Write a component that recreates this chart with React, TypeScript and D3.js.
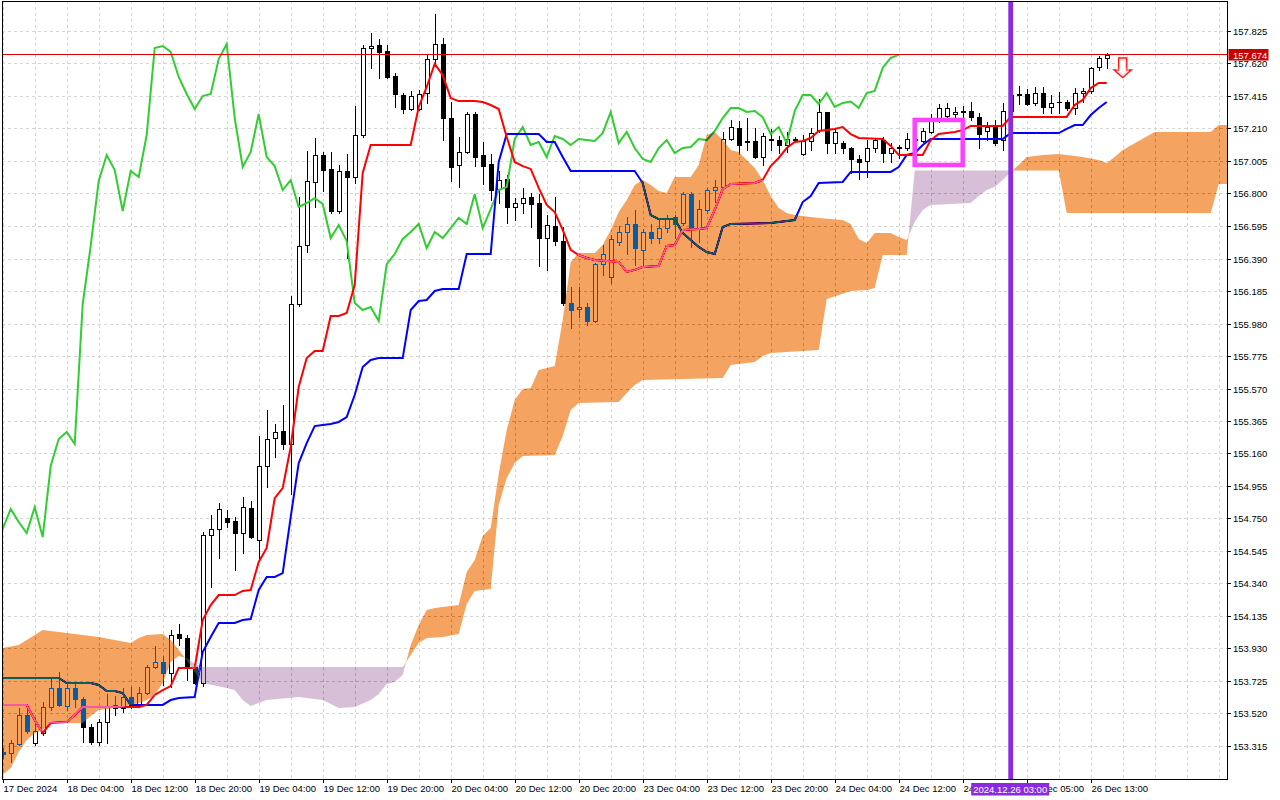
import * as d3 from 'd3'

// hourly candles, bar 0 = 17 Dec 20:00
const opens = [
  153.277, 153.271, 153.328, 153.51, 153.334, 153.397, 153.561, 153.681, 153.567, 153.681,
  153.611, 153.435, 153.34, 153.466, 153.574, 153.555, 153.624, 153.574, 153.649, 153.813,
  153.845, 153.775, 154.021, 153.996, 153.813, 153.712, 154.646, 154.684, 154.753, 154.734,
  154.658, 154.816, 154.614, 155.081, 155.258, 155.302, 155.22, 156.103, 156.475, 156.873,
  157.043, 156.955, 156.69, 156.942, 156.904, 157.169, 157.718, 157.737, 157.699, 157.541,
  157.421, 157.333, 157.333, 157.434, 157.648, 157.743, 157.276, 156.98, 157.062, 157.301,
  157.043, 156.986, 156.828, 156.891, 156.715, 156.74, 156.778, 156.74, 156.519, 156.595,
  156.5, 156.109, 156.071, 156.084, 155.996, 156.355, 156.273, 156.494, 156.557, 156.608,
  156.444, 156.557, 156.519, 156.582, 156.652, 156.614, 156.797, 156.582, 156.696, 156.822,
  156.841, 157.144, 157.213, 157.131, 157.131, 157.03, 157.137, 157.137, 157.106, 157.144,
  157.049, 157.131, 157.2, 157.314, 157.118, 157.118, 157.087, 157.018, 157.005, 157.087,
  157.137, 157.055, 157.087, 157.087, 157.144, 157.131, 157.188, 157.276, 157.289, 157.301,
  157.314, 157.32, 157.282, 157.194, 157.219, 157.137, 157.32, 157.428, 157.428, 157.371,
  157.434, 157.346, 157.377, 157.377, 157.339, 157.434, 157.447, 157.598, 157.655,
]
const highs = [
  153.302, 153.353, 153.555, 153.555, 153.492, 153.592, 153.75, 153.782, 153.719, 153.719,
  153.624, 153.454, 153.485, 153.643, 153.63, 153.681, 153.687, 153.687, 153.826, 153.946,
  153.883, 154.047, 154.085, 154.015, 153.857, 154.665, 154.772, 154.848, 154.804, 154.759,
  154.886, 154.86, 155.27, 155.434, 155.346, 155.466, 156.154, 156.778, 157.068, 157.15,
  157.062, 157.062, 156.98, 157.049, 157.352, 157.737, 157.812, 157.775, 157.737, 157.56,
  157.434, 157.447, 157.453, 157.674, 157.932, 157.781, 157.377, 157.156, 157.314, 157.314,
  157.125, 157.049, 156.942, 156.917, 156.771, 156.835, 156.803, 156.797, 156.664, 156.778,
  156.589, 156.21, 156.21, 156.109, 156.362, 156.475, 156.538, 156.595, 156.652, 156.696,
  156.576, 156.608, 156.633, 156.664, 156.664, 156.809, 156.809, 156.759, 156.835, 156.885,
  157.188, 157.264, 157.257, 157.276, 157.213, 157.181, 157.207, 157.163, 157.188, 157.156,
  157.169, 157.213, 157.396, 157.314, 157.213, 157.131, 157.093, 157.043, 157.137, 157.15,
  157.156, 157.118, 157.106, 157.181, 157.169, 157.213, 157.301, 157.364, 157.371, 157.346,
  157.352, 157.377, 157.308, 157.251, 157.264, 157.371, 157.44, 157.478, 157.459, 157.472,
  157.472, 157.421, 157.44, 157.39, 157.465, 157.465, 157.598, 157.667, 157.686,
]
const lows = [
  153.239, 153.214, 153.321, 153.397, 153.321, 153.384, 153.542, 153.567, 153.542, 153.561,
  153.34, 153.328, 153.321, 153.334, 153.51, 153.529, 153.555, 153.561, 153.643, 153.807,
  153.7, 153.687, 153.952, 153.731, 153.706, 153.693, 154.318, 154.501, 154.696, 154.425,
  154.532, 154.627, 154.488, 154.949, 155.138, 155.188, 154.905, 156.09, 156.431, 156.715,
  156.816, 156.677, 156.677, 156.393, 156.866, 157.156, 157.592, 157.529, 157.529, 157.346,
  157.308, 157.327, 157.327, 157.371, 157.611, 157.137, 156.879, 156.841, 157.055, 156.973,
  156.86, 156.759, 156.74, 156.614, 156.633, 156.677, 156.589, 156.343, 156.318, 156.475,
  156.097, 155.952, 156.021, 155.971, 155.989, 156.286, 156.236, 156.475, 156.418, 156.349,
  156.336, 156.488, 156.488, 156.557, 156.519, 156.601, 156.463, 156.494, 156.677, 156.746,
  156.835, 157.137, 157.049, 157.074, 157.024, 156.98, 157.074, 157.055, 157.062, 157.125,
  157.043, 157.074, 157.188, 157.055, 157.055, 157.055, 156.929, 156.891, 156.904, 157.062,
  156.999, 156.999, 157.024, 157.074, 157.118, 157.125, 157.181, 157.251, 157.276, 157.282,
  157.282, 157.264, 157.087, 157.137, 157.106, 157.074, 157.308, 157.365, 157.358, 157.358,
  157.308, 157.308, 157.308, 157.327, 157.301, 157.377, 157.434, 157.579, 157.592,
]
const closes = [
  153.265, 153.334, 153.51, 153.41, 153.41, 153.561, 153.681, 153.574, 153.681, 153.611,
  153.435, 153.34, 153.466, 153.561, 153.555, 153.624, 153.574, 153.649, 153.813, 153.845,
  153.775, 154.015, 153.996, 153.813, 153.712, 154.646, 154.684, 154.81, 154.728, 154.658,
  154.822, 154.633, 155.081, 155.251, 155.296, 155.22, 156.103, 156.469, 156.879, 157.043,
  156.948, 156.69, 156.942, 156.904, 157.169, 157.718, 157.73, 157.693, 157.535, 157.428,
  157.333, 157.415, 157.428, 157.648, 157.743, 157.276, 156.967, 157.062, 157.301, 157.03,
  156.973, 156.822, 156.885, 156.715, 156.74, 156.771, 156.734, 156.519, 156.601, 156.5,
  156.109, 156.065, 156.084, 155.996, 156.355, 156.418, 156.513, 156.557, 156.608, 156.456,
  156.557, 156.519, 156.582, 156.646, 156.608, 156.797, 156.582, 156.702, 156.822, 156.841,
  157.144, 157.219, 157.106, 157.125, 157.03, 157.163, 157.144, 157.106, 157.144, 157.137,
  157.131, 157.181, 157.314, 157.118, 157.188, 157.087, 157.018, 156.999, 157.087, 157.137,
  157.055, 157.087, 157.093, 157.144, 157.137, 157.194, 157.276, 157.339, 157.339, 157.314,
  157.32, 157.282, 157.175, 157.219, 157.118, 157.32, 157.421, 157.421, 157.365, 157.434,
  157.346, 157.371, 157.38, 157.339, 157.434, 157.447, 157.592, 157.655, 157.674,
]

// Ichimoku lines as [bar, price] vertices
const tenkan: [number, number][] = [
  [0, 153.574], [3, 153.574], [4, 153.479], [5, 153.397], [6, 153.46], [8, 153.466], [9, 153.51],
  [10, 153.561], [17, 153.561], [18, 153.574], [19, 153.637], [20, 153.668], [21, 153.693],
  [22, 153.807], [24, 153.807], [25, 154.11], [26, 154.204], [27, 154.267], [29, 154.267],
  [30, 154.293], [31, 154.299], [32, 154.476], [33, 154.564], [34, 154.879], [35, 154.942],
  [36, 155.201], [37, 155.579], [38, 155.762], [39, 155.807], [40, 155.807], [41, 156.027],
  [42, 156.027], [43, 156.046], [44, 156.223], [45, 156.929], [46, 157.106], [51, 157.106],
  [52, 157.346], [53, 157.472], [54, 157.617], [55, 157.547], [56, 157.402], [57, 157.383],
  [59, 157.383], [60, 157.377], [61, 157.358], [62, 157.333], [63, 157.156], [64, 156.999],
  [65, 156.973], [66, 156.955], [67, 156.835], [68, 156.728], [69, 156.683], [70, 156.57],
  [71, 156.444], [72, 156.412], [73, 156.393], [74, 156.381], [77, 156.368], [78, 156.305],
  [79, 156.318], [80, 156.336], [82, 156.343], [83, 156.469], [84, 156.475], [85, 156.57],
  [87, 156.576], [88, 156.582], [89, 156.696], [90, 156.828], [91, 156.86], [94, 156.866],
  [95, 156.885], [96, 156.973], [97, 157.024], [98, 157.087], [99, 157.125], [100, 157.131],
  [101, 157.15], [102, 157.194], [104, 157.207], [105, 157.219], [106, 157.175], [107, 157.15],
  [110, 157.144], [111, 157.1], [112, 157.043], [115, 157.043], [116, 157.137], [117, 157.175],
  [118, 157.181], [119, 157.188], [120, 157.2], [121, 157.226], [125, 157.226], [126, 157.283],
  [133, 157.283], [134, 157.358], [135, 157.39], [136, 157.465], [137, 157.497], [138, 157.497],
]
const kijun: [number, number][] = [
  [0, 153.744], [7, 153.744], [8, 153.712], [11, 153.712], [12, 153.7], [13, 153.662],
  [14, 153.662], [15, 153.649], [16, 153.574], [20, 153.574], [21, 153.605], [22, 153.618],
  [24, 153.624], [25, 153.908], [26, 154.003], [27, 154.091], [29, 154.091], [30, 154.11],
  [31, 154.116], [32, 154.299], [33, 154.381], [34, 154.381], [35, 154.406], [36, 154.759],
  [37, 155.1], [38, 155.226], [39, 155.333], [40, 155.34], [41, 155.346], [42, 155.359],
  [43, 155.39], [44, 155.529], [45, 155.706], [46, 155.75], [47, 155.762], [50, 155.762],
  [51, 156.065], [52, 156.122], [53, 156.128], [54, 156.185], [55, 156.198], [57, 156.198],
  [58, 156.418], [61, 156.418], [62, 156.999], [63, 157.175], [67, 157.175], [68, 157.125],
  [69, 157.125], [70, 157.03], [71, 156.942], [79, 156.942], [80, 156.866], [81, 156.664],
  [82, 156.639], [84, 156.639], [85, 156.551], [86, 156.507], [87, 156.463], [88, 156.431],
  [89, 156.418], [90, 156.589], [91, 156.608], [96, 156.614], [99, 156.633], [100, 156.746],
  [101, 156.784], [102, 156.866], [105, 156.873], [106, 156.936], [111, 156.936], [112, 156.967],
  [113, 157.043], [114, 157.055], [115, 157.106], [116, 157.144], [125, 157.144], [126, 157.181],
  [132, 157.181], [133, 157.207], [134, 157.232], [135, 157.232], [136, 157.295], [137, 157.339],
  [138, 157.377],
]
const senkouA: [number, number][] = [
  [0, 153.933], [2, 153.952], [4, 154.015], [5, 154.047], [8, 154.028], [12, 154.003],
  [16, 153.965], [17, 153.996], [18, 154.015], [20, 154.021], [21, 153.984], [22, 153.921],
  [23, 153.857], [24, 153.782], [25, 153.712], [28, 153.681], [29, 153.668], [30, 153.605],
  [31, 153.567], [32, 153.586], [33, 153.605], [37, 153.624], [40, 153.605], [42, 153.555],
  [44, 153.561], [46, 153.605], [47, 153.643], [48, 153.706], [49, 153.719], [50, 153.763],
  [51, 153.952], [52, 154.078], [53, 154.173], [54, 154.185], [55, 154.192], [56, 154.198],
  [57, 154.204], [58, 154.412], [59, 154.488], [60, 154.64], [61, 154.69], [62, 155.031],
  [63, 155.308], [64, 155.497], [65, 155.567], [66, 155.573], [67, 155.687], [68, 155.699],
  [69, 155.712], [70, 156.002], [71, 156.368], [72, 156.425], [74, 156.425], [75, 156.475],
  [76, 156.57], [77, 156.683], [78, 156.759], [79, 156.854], [80, 156.885], [81, 156.854],
  [82, 156.816], [83, 156.803], [84, 156.904], [86, 156.904], [87, 156.98], [88, 157.169],
  [89, 157.188], [90, 157.137], [91, 157.074], [92, 157.062], [93, 157.011], [94, 156.961],
  [95, 156.885], [96, 156.784], [97, 156.709], [98, 156.677], [99, 156.664], [102, 156.646],
  [105, 156.633], [106, 156.608], [107, 156.513], [108, 156.488], [109, 156.551], [111, 156.551],
  [112, 156.526], [113, 156.507], [114, 156.62], [115, 156.696], [116, 156.728], [121, 156.74],
  [122, 156.784], [123, 156.822], [124, 156.841], [125, 156.885], [126, 156.936], [127, 156.98],
  [128, 157.03], [130, 157.043], [132, 157.049], [135, 157.03], [137, 157.011], [138, 156.992],
  [139, 157.03], [140, 157.074], [142, 157.131], [144, 157.188], [151, 157.188], [152, 157.232],
  [154, 157.232],
]
const senkouB: [number, number][] = [
  [0, 153.132], [1, 153.176], [2, 153.277], [3, 153.353], [4, 153.397], [5, 153.416],
  [6, 153.46], [10, 153.46], [11, 153.504], [12, 153.542], [15, 153.561], [17, 153.586],
  [18, 153.605], [19, 153.637], [20, 153.712], [21, 153.845], [22, 153.883], [23, 153.87],
  [24, 153.832], [25, 153.813], [50, 153.813], [51, 153.889], [52, 153.965], [53, 153.996],
  [55, 154.003], [57, 154.021], [58, 154.211], [59, 154.293], [60, 154.299], [61, 154.305],
  [62, 154.835], [63, 155.005], [64, 155.1], [65, 155.144], [69, 155.15], [70, 155.27],
  [71, 155.434], [72, 155.479], [77, 155.485], [78, 155.542], [79, 155.592], [80, 155.624],
  [90, 155.636], [91, 155.718], [94, 155.737], [95, 155.775], [96, 155.794], [102, 155.813],
  [103, 156.134], [106, 156.185], [108, 156.191], [109, 156.204], [110, 156.412], [113, 156.412],
  [114, 156.945], [132, 156.945], [133, 156.677], [151, 156.677], [152, 156.86], [154, 156.86],
]

const timeLabels = [
  '17 Dec 2024', '18 Dec 04:00', '18 Dec 12:00', '18 Dec 20:00', '19 Dec 04:00', '19 Dec 12:00',
  '19 Dec 20:00', '20 Dec 04:00', '20 Dec 12:00', '20 Dec 20:00', '23 Dec 04:00', '23 Dec 12:00',
  '23 Dec 20:00', '24 Dec 04:00', '24 Dec 12:00', '24 Dec 20:00', '26 Dec 05:00', '26 Dec 13:00',
]
const priceTicks = [
  157.825, 157.62, 157.415, 157.21, 157.005, 156.8, 156.595, 156.39, 156.185, 155.98, 155.775,
  155.57, 155.365, 155.16, 154.955, 154.75, 154.545, 154.34, 154.135, 153.93, 153.725, 153.52,
  153.315,
]

// chart objects
const bidPrice = 157.674
const vlineBar = 126
const vlineLabel = '2024.12.26 03:00'
const boxBars = [114, 120]
const boxPrices = [157.264, 156.98]
const arrowBar = 140
const arrowPrice = 157.655
const chikouShift = 26

const W = 1280
const H = 800
const plot = { left: 2, top: 1, right: 1227, bottom: 779 }
const font = "'Liberation Sans', Arial, sans-serif"

export default function App() {
  const x = d3.scaleLinear().domain([0, 153]).range([2.7, 2.7 + 8 * 153])
  const y = d3.scaleLinear().domain([153.315, 157.825]).range([746, 31])
  const px = (i: number) => Math.round(x(i))
  const py = (p: number) => Math.round(y(p))

  const line = d3
    .line<[number, number]>()
    .x((d) => x(d[0]))
    .y((d) => y(d[1]))

  const chikou: [number, number][] = closes.slice(chikouShift).map((c, i) => [i, c])

  // half-planes above / below a vertex line (screen space)
  const region = (pts: [number, number][], edge: number) => {
    const first = pts[0][0]
    const last = pts[pts.length - 1][0]
    return `M${x(first)},${edge}L${pts.map((d) => `${x(d[0])},${y(d[1])}`).join('L')}L${x(last)},${edge}Z`
  }

  const tickBars = timeLabels.map((_, i) => i * 8)
  const gridBars = d3.range(0, 153, 4)

  const ax = x(arrowBar)
  const ay = y(arrowPrice)
  const arrowPath = `M${ax - 4},${ay}L${ax + 4},${ay}L${ax + 4},${ay + 12}L${ax + 8.5},${ay + 12}L${ax},${ay + 19.5}L${ax - 8.5},${ay + 12}L${ax - 4},${ay + 12}Z`

  return (
    <svg
      width={W}
      height={H}
      style={{ position: 'absolute', left: 0, top: 0, background: '#fff' }}
      fontFamily={font}
    >
      <defs>
        <clipPath id="plotClip">
          <rect x={plot.left} y={plot.top} width={plot.right - plot.left} height={plot.bottom - plot.top} />
        </clipPath>
        <clipPath id="aboveA">
          <path d={region(senkouA, -50)} />
        </clipPath>
        <clipPath id="aboveB">
          <path d={region(senkouB, -50)} />
        </clipPath>
      </defs>

      <g clipPath="url(#plotClip)">
        <rect x={0} y={0} width={W} height={H} fill="#fff" />

        {/* grid */}
        <g stroke="#d6d6d6" strokeDasharray="3 3" shapeRendering="crispEdges">
          {priceTicks.map((p) => (
            <line key={p} x1={plot.left} x2={plot.right} y1={py(p) + 0.5} y2={py(p) + 0.5} />
          ))}
          {gridBars.map((b) => (
            <line key={b} x1={px(b) + 0.5} x2={px(b) + 0.5} y1={plot.top} y2={plot.bottom} />
          ))}
        </g>

        {/* candles */}
        <g shapeRendering="crispEdges">
          {opens.map((o, i) => {
            const c = closes[i]
            const cx = px(i)
            const top = py(Math.max(o, c))
            const bot = py(Math.min(o, c))
            const bull = c >= o
            return (
              <g key={i}>
                <line x1={cx + 0.5} x2={cx + 0.5} y1={py(highs[i])} y2={py(lows[i]) + 1} stroke="#000" />
                {bot - top < 1 ? (
                  <line x1={cx - 2} x2={cx + 3} y1={top + 0.5} y2={top + 0.5} stroke="#000" />
                ) : (
                  <rect
                    x={cx - 1.5}
                    y={top + 0.5}
                    width={4}
                    height={bot - top}
                    fill={bull ? '#fff' : '#000'}
                    stroke="#000"
                  />
                )}
              </g>
            )
          })}
        </g>

        {/* ichimoku lines */}
        <path d={line(chikou) ?? ''} fill="none" stroke="#32cd32" strokeWidth={2} />
        <path d={line(kijun) ?? ''} fill="none" stroke="#0000ff" strokeWidth={2} />
        <path d={line(tenkan) ?? ''} fill="none" stroke="#ff0000" strokeWidth={2} />

        {/* cloud, drawn like the terminal does (inverting what is under it) */}
        <path
          d={region(senkouA, 900)}
          clipPath="url(#aboveB)"
          fill="#0b5b9f"
          style={{ mixBlendMode: 'difference' }}
        />
        <path
          d={region(senkouB, 900)}
          clipPath="url(#aboveA)"
          fill="#274027"
          style={{ mixBlendMode: 'difference' }}
        />

        {/* objects */}
        <line
          x1={plot.left}
          x2={plot.right}
          y1={py(bidPrice) - 0.5}
          y2={py(bidPrice) - 0.5}
          stroke="#e00000"
          shapeRendering="crispEdges"
        />
        <line x1={x(vlineBar)} x2={x(vlineBar)} y1={plot.top} y2={plot.bottom} stroke="#8a2be2" strokeWidth={4.8} />
        <rect
          x={x(boxBars[0])}
          y={y(boxPrices[0])}
          width={x(boxBars[1]) - x(boxBars[0])}
          height={y(boxPrices[1]) - y(boxPrices[0])}
          fill="none"
          stroke="#ff40ff"
          strokeWidth={4.5}
        />
        <path d={arrowPath} fill="#fff" stroke="#ff1a1a" strokeWidth={1.5} />
        <path
          d={arrowPath}
          fill="none"
          stroke="#ffb4b4"
          strokeWidth={0.9}
          transform={`translate(${ax},${ay + 9}) scale(0.75) translate(${-ax},${-ay - 9})`}
        />
      </g>

      {/* frame and axes */}
      <rect
        x={plot.left + 0.5}
        y={plot.top + 0.5}
        width={plot.right - plot.left}
        height={plot.bottom - plot.top}
        fill="none"
        stroke="#000"
        shapeRendering="crispEdges"
      />
      <g fontSize={9.5} fill="#000">
        {priceTicks.map((p) => (
          <g key={p}>
            <line x1={plot.right} x2={plot.right + 4} y1={py(p) + 0.5} y2={py(p) + 0.5} stroke="#000" shapeRendering="crispEdges" />
            <text x={plot.right + 6} y={py(p) + 3.5}>
              {d3.format('.3f')(p)}
            </text>
          </g>
        ))}
        {tickBars.map((b, i) => (
          <g key={b}>
            <line x1={px(b) + 0.5} x2={px(b) + 0.5} y1={plot.bottom} y2={plot.bottom + 4} stroke="#000" shapeRendering="crispEdges" />
            <text x={px(b) + 0.5} y={792}>
              {timeLabels[i]}
            </text>
          </g>
        ))}
      </g>

      {/* price / time labels of the objects */}
      <rect x={plot.right + 1.5} y={py(bidPrice) - 6} width={40} height={11.5} fill="#c80000" />
      <text x={plot.right + 6} y={py(bidPrice) + 3.5} fontSize={9.5} fill="#fff">
        {d3.format('.3f')(bidPrice)}
      </text>
      <rect x={x(vlineBar) - 39.5} y={783} width={78} height={12.5} fill="#8a2be2" />
      <text x={x(vlineBar) - 0.5} y={792.5} fontSize={9.5} fill="#fff" textAnchor="middle">
        {vlineLabel}
      </text>
    </svg>
  )
}
